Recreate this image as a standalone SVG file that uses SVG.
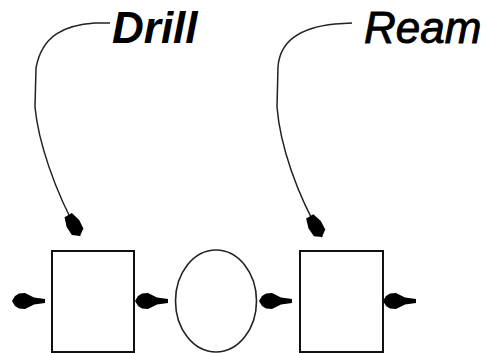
<svg xmlns="http://www.w3.org/2000/svg" xmlns:xlink="http://www.w3.org/1999/xlink" width="488" height="353" viewBox="0 0 488 353">
<style>
.box{fill:#fff;stroke:#111;stroke-width:2}
.oval{fill:#fff;stroke:#222;stroke-width:1.6}
.curve{fill:none;stroke:#222;stroke-width:1.5}
.lbl{font-family:"Liberation Sans",Arial,sans-serif;font-style:italic;font-size:44px;fill:#000}
</style>
<defs>
<marker id="head" markerUnits="userSpaceOnUse" markerWidth="30" markerHeight="24" viewBox="-22 -10 24 20" refX="0" refY="0" orient="auto">
<path d="M0,0 L-4,-5.5 L-12,-6 L-20,-3.5 L-20,3.5 L-12,6 L-4,5.5 Z" fill="#000"/>
</marker>
<path id="harrow" d="M0,0 L3,-5 L7,-7.5 L13,-8 L17,-6 L22,-3.5 L33,-2 L33,2 L22,3.5 L17,6 L13,8 L7,7.5 L3,5 Z" fill="#000"/>
</defs>
<g id="label-drill"><text class="lbl" x="112" y="43" font-weight="bold">Drill</text></g>
<g id="label-ream"><text class="lbl" x="364" y="43" stroke="#000" stroke-width="0.9">Ream</text></g>
<g id="box1"><rect class="box" x="52" y="251" width="82" height="101"/></g>
<g id="oval"><ellipse class="oval" cx="216" cy="301" rx="40.5" ry="51"/></g>
<g id="box2"><rect class="box" x="300" y="251" width="83" height="101"/></g>
<g id="connectors">
<path class="curve" d="M110,23 L95,23 C65,25 42,35 36,68 L35,107 C38,140 54,190 80,236" marker-end="url(#head)"/>
<path class="curve" d="M352,23 L335,24 C305,27 280,38 278,67 L277,107 C280,145 297,195 322,237" marker-end="url(#head)"/>
<use xlink:href="#harrow" x="12" y="301"/>
<use xlink:href="#harrow" x="135" y="301"/>
<use xlink:href="#harrow" x="259" y="301"/>
<use xlink:href="#harrow" x="383" y="301"/>
</g>
</svg>
